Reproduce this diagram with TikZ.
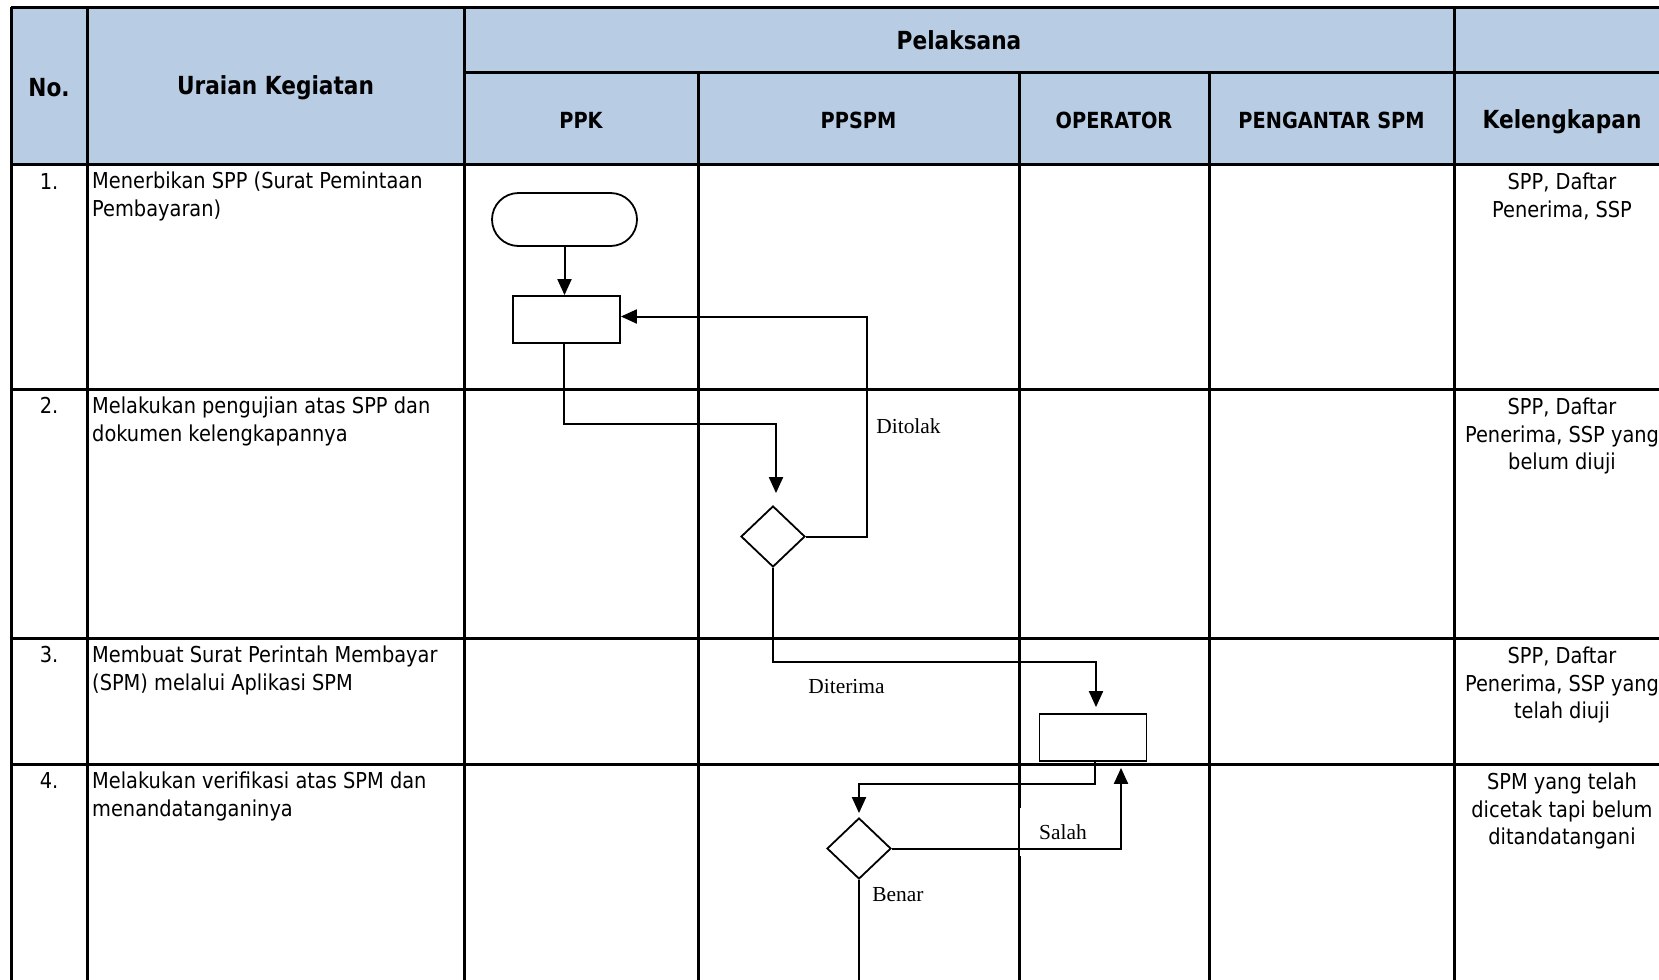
\documentclass[tikz,border=0pt]{standalone}
\usepackage{fontspec}
\setmainfont{DejaVu Sans}[FakeStretch=0.87]
\newfontfamily\bodyfont{DejaVu Sans}[FakeStretch=0.884]
\newfontfamily\labelfont{Liberation Serif}
\usepackage{tikz}
\definecolor{headblue}{RGB}{184,204,228}
\usetikzlibrary{positioning, shapes, shapes.geometric, arrows.meta, calc}
\tikzstyle{gridline}=[line width=3bp]
\tikzstyle{headtext}=[font=\bfseries\fontsize{25}{28}\selectfont]
\tikzstyle{subhead}=[font=\bfseries\fontsize{22.3}{26}\selectfont]
\tikzstyle{bodytext}=[font=\bodyfont\fontsize{22}{27.5}\selectfont, inner sep=0pt]
\tikzstyle{terminal}=[draw, rectangle, rounded corners=26.5bp, line width=1.8bp,
  minimum width=145bp, minimum height=53bp, inner sep=0pt]
\tikzstyle{process}=[draw, rectangle, line width=1.8bp,
  minimum width=107bp, minimum height=47bp, inner sep=0pt]
\tikzstyle{decision}=[draw, diamond, line width=1.8bp,
  minimum width=64bp, minimum height=61bp, inner sep=0pt]
\tikzstyle{branch}=[font=\labelfont\fontsize{21.5}{24}\selectfont, inner sep=1bp]
\tikzstyle{flowline}=[line width=2bp]
\tikzstyle{arrow}=[line width=2bp, -{Triangle[length=16bp, width=14bp]}]

\begin{document}
\begin{tikzpicture}[x=1bp, y=-1bp]
	\useasboundingbox (0,0) rectangle (1659,979);
	\clip (0,0) rectangle (1659,979);

	% Header band
	\fill[headblue] (11,7) rectangle (1670,164);

	% Table lines
	\draw[gridline] (11,7) -- (1670,7);
	\draw[gridline] (464,72) -- (1670,72);
	\draw[gridline] (11,164) -- (1670,164);
	\draw[gridline] (11,389) -- (1670,389);
	\draw[gridline] (11,638) -- (1670,638);
	\draw[gridline] (11,764) -- (1670,764);
	\draw[gridline] (11,7) -- (11,990);
	\draw[gridline] (87,7) -- (87,990);
	\draw[gridline] (464,7) -- (464,990);
	\draw[gridline] (698,72) -- (698,990);
	\draw[gridline] (1019,72) -- (1019,990);
	\draw[gridline] (1209,72) -- (1209,990);
	\draw[gridline] (1454,7) -- (1454,990);

	% Column heads
	\node[headtext] (no) at (49,88) {No.};
	\node[headtext] (uraian) at (275.5,88) {Uraian Kegiatan};
	\node[headtext] (pelaksana) at (959,40) {Pelaksana};
	\node[subhead] (ppk) at (581,120) {PPK};
	\node[subhead] (ppspm) at (858.5,120) {PPSPM};
	\node[subhead] (operator) at (1114,120) {OPERATOR};
	\node[subhead] (pengantar) at (1331.5,120) {PENGANTAR SPM};
	\node[headtext] (kelengkapan) at (1562,122) {Kelengkapan};

	% Row numbers
	\node[bodytext, anchor=base] (n1) at (49,189) {1.};
	\node[bodytext, anchor=base] (n2) at (49,413) {2.};
	\node[bodytext, anchor=base] (n3) at (49,662) {3.};
	\node[bodytext, anchor=base] (n4) at (49,788) {4.};

	% Activities
	\node[bodytext, anchor=north west, align=left] (keg1) at (92,172) {Menerbikan SPP (Surat Pemintaan\\Pembayaran)};
	\node[bodytext, anchor=north west, align=left] (keg2) at (92,397) {Melakukan pengujian atas SPP dan\\dokumen kelengkapannya};
	\node[bodytext, anchor=north west, align=left] (keg3) at (92,646) {Membuat Surat Perintah Membayar\\(SPM) melalui Aplikasi SPM};
	\node[bodytext, anchor=north west, align=left] (keg4) at (92,772) {Melakukan verifikasi atas SPM dan\\menandatanganinya};

	% Documents
	\node[bodytext, anchor=north, align=center] (dok1) at (1562,173) {SPP, Daftar\\Penerima, SSP};
	\node[bodytext, anchor=north, align=center] (dok2) at (1562,398) {SPP, Daftar\\Penerima, SSP yang\\belum diuji};
	\node[bodytext, anchor=north, align=center] (dok3) at (1562,647) {SPP, Daftar\\Penerima, SSP yang\\telah diuji};
	\node[bodytext, anchor=north, align=center] (dok4) at (1562,773) {SPM yang telah\\dicetak tapi belum\\ditandatangani};

	% Flow shapes
	\node[terminal] (start) at (564.5,219.5) {};
	\node[process] (terbit) at (566.5,319.5) {};
	\node[decision] (uji) at (773,536.5) {};
	\node[process] (buat) at (1093,737.5) {};
	\node[decision] (verif) at (859,848.5) {};
	\coordinate (lanjut) at (859,990);

	% Branch labels
	\node[branch] (ditolak) at (908.5,426) {Ditolak};
	\node[branch] (diterima) at (846.5,687) {Diterima};
	\node[branch, fill=white, minimum width=86bp, minimum height=48bp] (salah) at (1063,832) {Salah};
	\node[branch] (benar) at (898,895) {Benar};

	% Arrows
	\draw[arrow] (start.south) -- (start.south |- terbit.north);
	\draw[arrow] ([xshift=-3bp]terbit.south) -- ++(0,80) -| ([xshift=3bp, yshift=12bp]uji.north);
	\draw[arrow] (uji.east) -- ++(61,0) |- ([yshift=3bp]terbit.east);
	\draw[arrow] (uji.south) -- ++(0,94) -| ([xshift=3bp, yshift=6bp]buat.north);
	\draw[arrow] ([xshift=2bp]buat.south) -- ++(0,22) -| ([yshift=4bp]verif.north);
	\draw[arrow] (verif.east) -| ([xshift=28bp, yshift=-6bp]buat.south);
	\draw[flowline] (verif.south) -- (lanjut);
\end{tikzpicture}
\end{document}
